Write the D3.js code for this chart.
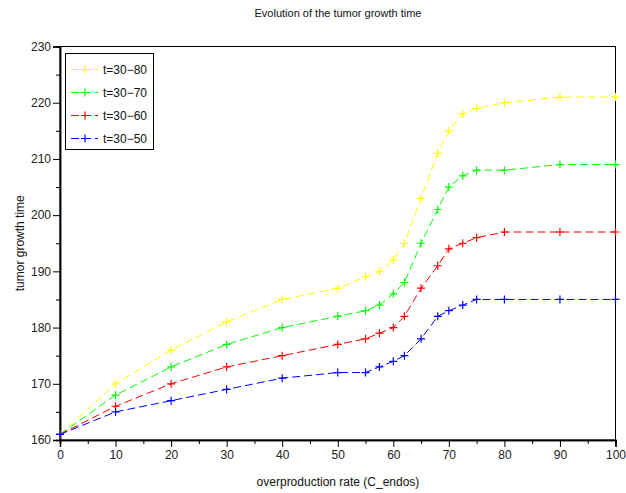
<!DOCTYPE html>
<html>
<head>
<meta charset="utf-8">
<script src="https://cdn.jsdelivr.net/npm/d3@7"></script>
<style>
  body { margin: 0; background: #fff; }
  svg { display: block; font-family: "Liberation Sans", Arial, sans-serif; }
</style>
</head>
<body>
<svg id="chart" width="626" height="493"></svg>
<script>
// valeurs
const rates = [0, 10, 20, 30, 40, 50, 55, 57.5, 60, 62, 65, 68, 70, 72.5, 75, 80, 90, 100];
const t80 = [161, 170, 176, 181, 185, 187, 189, 190, 192, 195, 203, 211, 215, 218, 219, 220, 221, 221];
const t70 = [161, 168, 173, 177, 180, 182, 183, 184, 186, 188, 195, 201, 205, 207, 208, 208, 209, 209];
const t60 = [161, 166, 170, 173, 175, 177, 178, 179, 180, 182, 187, 191, 194, 195, 196, 197, 197, 197];
const t50 = [161, 165, 167, 169, 171, 172, 172, 173, 174, 175, 178, 182, 183, 184, 185, 185, 185, 185];
const seriesNames = ["t=30\u221280", "t=30\u221270", "t=30\u221260", "t=30\u221250"];
const seriesColors = ["#ffff00", "#00ff00", "#ff0000", "#0000ff"];
const xTicks = d3.range(0, 101, 10);
const yTicks = d3.range(160, 231, 10);

const svg = d3.select("#chart");
const plotLeft = 60, plotRight = 615.5, plotTop = 46.5, plotBottom = 440;

const x = d3.scaleLinear().domain([0, 100]).range([plotLeft, plotRight]);
const y = d3.scaleLinear().domain([160, 230]).range([plotBottom, plotTop]);

// cadre
svg.append("rect")
    .attr("x", plotLeft).attr("y", plotTop)
    .attr("width", plotRight - plotLeft).attr("height", plotBottom - plotTop)
    .attr("fill", "none").attr("stroke", "#000").attr("stroke-width", 1);

// axe x : graduations majeures + mineures
const xAxis = svg.append("g").attr("transform", `translate(0,${plotBottom})`);
xAxis.call(d3.axisBottom(x).tickValues(d3.range(5, 100, 10)).tickSize(4).tickFormat(""));
xAxis.append("g").call(d3.axisBottom(x).tickValues(xTicks).tickSize(7).tickPadding(3).tickFormat(d3.format("d")));
xAxis.selectAll(".domain").attr("stroke", "#000").attr("stroke-width", 1.5);

const yAxis = svg.append("g").attr("transform", `translate(${plotLeft},0)`);
yAxis.call(d3.axisLeft(y).tickValues(d3.range(165, 230, 10)).tickSize(4).tickFormat(""));
yAxis.append("g").call(d3.axisLeft(y).tickValues(yTicks).tickSize(7).tickPadding(2).tickFormat(d3.format("d")));
yAxis.selectAll(".domain").attr("stroke", "#000").attr("stroke-width", 1.5);

svg.selectAll(".tick text")
    .attr("font-size", "12px")
    .attr("font-family", "Liberation Sans, Arial, sans-serif")
    .attr("fill", "#222");

// textes
svg.append("text")
    .attr("x", 338).attr("y", 17)
    .attr("text-anchor", "middle")
    .attr("font-size", "11px")
    .attr("fill", "#111")
    .text("Evolution of the tumor growth time");

svg.append("text")
    .attr("x", 338).attr("y", 486)
    .attr("text-anchor", "middle")
    .attr("font-size", "12px")
    .attr("fill", "#111")
    .text("overproduction rate (C_endos)");

svg.append("text")
    .attr("transform", `translate(24,${(plotTop + plotBottom) / 2}) rotate(-90)`)
    .attr("text-anchor", "middle")
    .attr("font-size", "12px")
    .attr("fill", "#111")
    .text("tumor growth time");

// courbes
const allSeries = [t80, t70, t60, t50];
const line = d3.line()
    .x((d, i) => x(rates[i]))
    .y(d => y(d));

function plus(g, cx, cy, color) {
    g.append("path")
        .attr("d", `M${cx - 4},${cy}H${cx + 4}M${cx},${cy - 4}V${cy + 4}`)
        .attr("stroke", color)
        .attr("stroke-width", 1.2)
        .attr("fill", "none");
}

allSeries.forEach((vals, k) => {
    const g = svg.append("g");
    g.append("path")
        .datum(vals)
        .attr("d", line)
        .attr("fill", "none")
        .attr("stroke", seriesColors[k])
        .attr("stroke-width", 1)
        .attr("stroke-dasharray", "8,4");
    vals.forEach((v, i) => plus(g, x(rates[i]), y(v), seriesColors[k]));
});

// légende
const legend = svg.append("g");
legend.append("rect")
    .attr("x", 65.5).attr("y", 53.5)
    .attr("width", 88).attr("height", 96)
    .attr("fill", "#fff").attr("stroke", "#000").attr("stroke-width", 1);

seriesNames.forEach((name, k) => {
    const ly = 69.5 + k * 23;
    legend.append("line")
        .attr("x1", 71).attr("x2", 98)
        .attr("y1", ly).attr("y2", ly)
        .attr("stroke", seriesColors[k])
        .attr("stroke-width", 1)
        .attr("stroke-dasharray", "8,4");
    plus(legend, 85, ly, seriesColors[k]);
    legend.append("text")
        .attr("x", 103).attr("y", ly + 4.5)
        .attr("font-size", "12px")
        .attr("fill", "#111")
        .text(name);
});
</script>
</body>
</html>
